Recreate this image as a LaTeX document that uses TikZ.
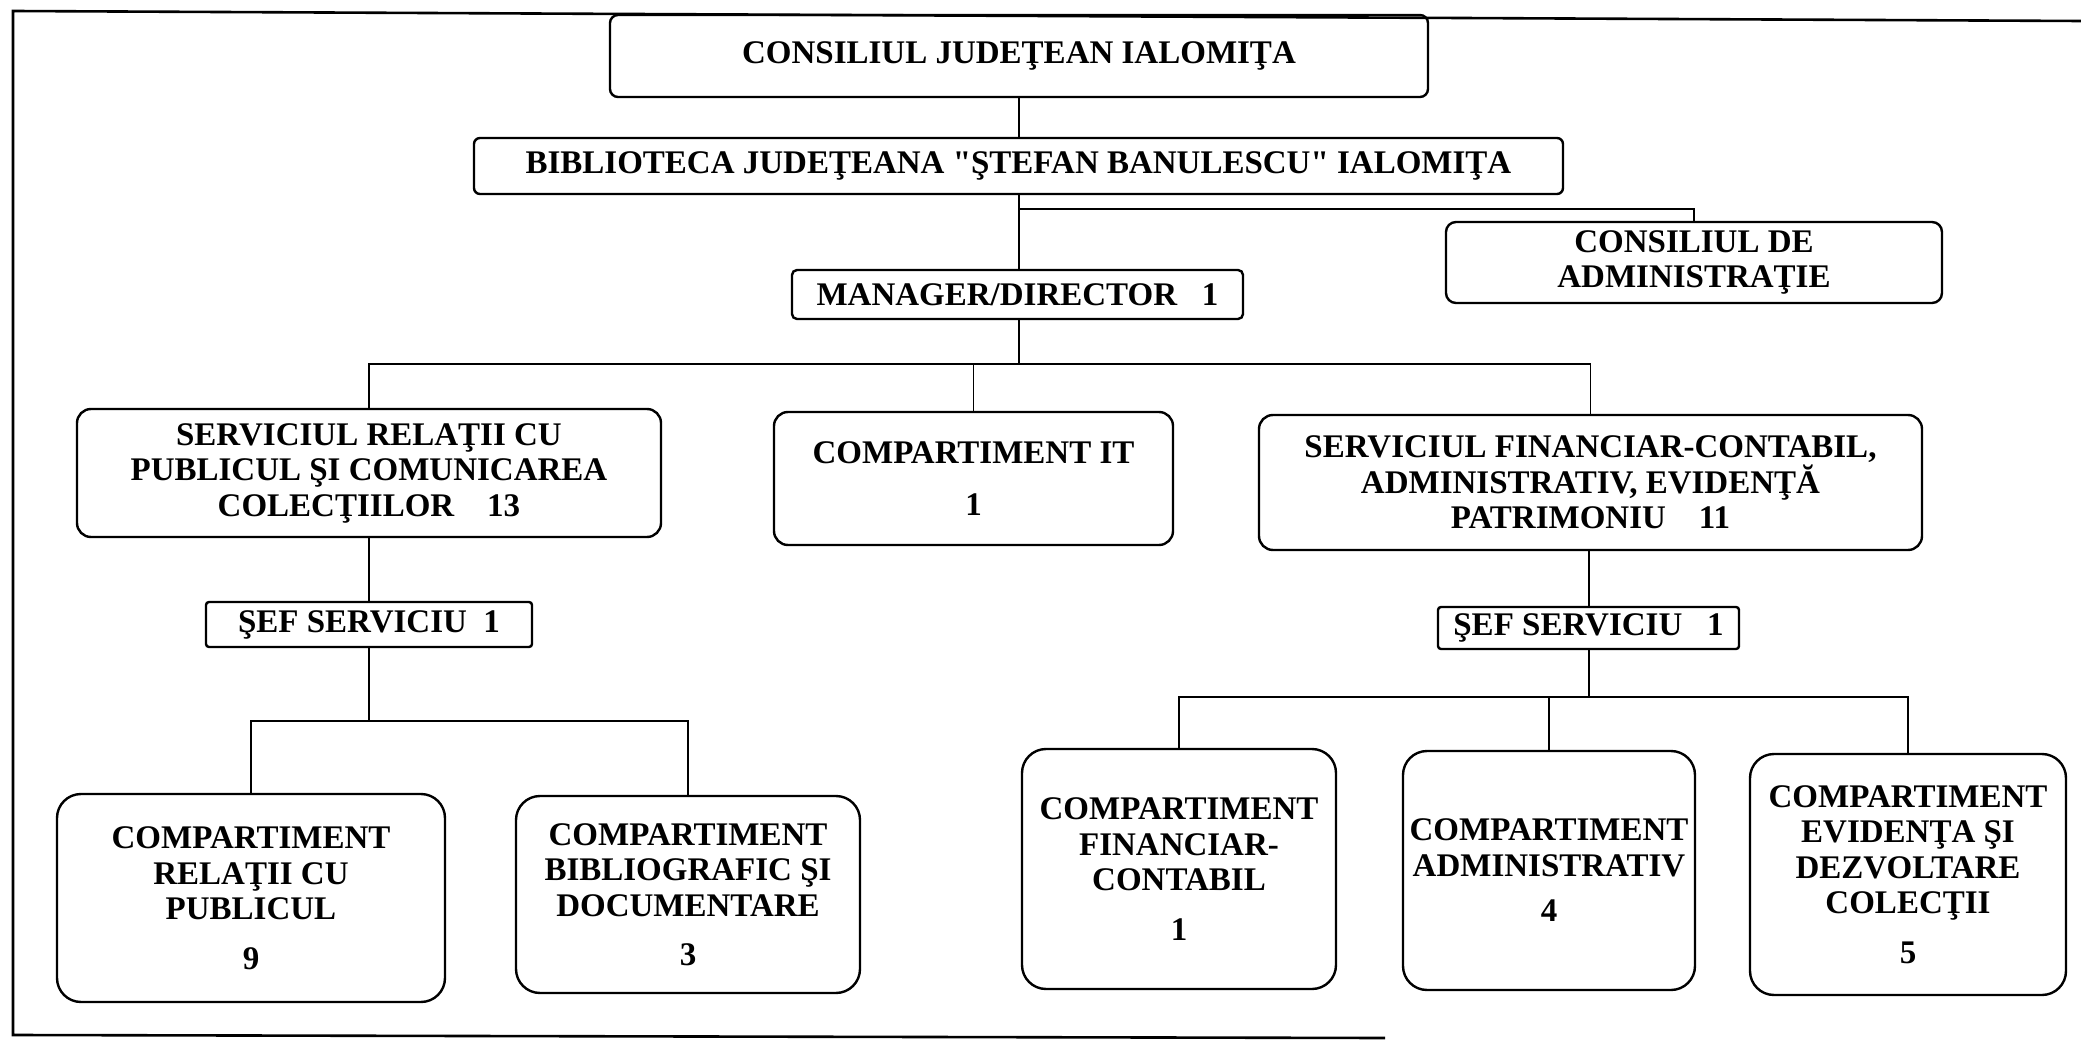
\documentclass[tikz,border=0pt]{standalone}
\usepackage{fontspec}
\setmainfont{Liberation Serif}[Ligatures=TeXOff]
\begin{document}
\begin{tikzpicture}[x=1pt,y=-1pt,
  box/.style={draw,line width=2.4pt,align=center,inner sep=0pt,
    font=\fontsize{33}{35.5}\selectfont\bfseries},
  conn/.style={line width=1.8pt},
  frame/.style={line width=2.6pt}]
\useasboundingbox (0,0) rectangle (2081,1040);
% outer frame
\draw[frame] (2081,21) -- (13,11) -- (13,1035) -- (1385,1038);
% boxes
\node[box,rounded corners=8pt,minimum width=818pt,minimum height=82pt] (cj) at (1019,56) {CONSILIUL JUDEŢEAN IALOMIŢA};
\node[box,rounded corners=6pt,minimum width=1089pt,minimum height=56pt] (bib) at (1018.5,166) {BIBLIOTECA JUDEŢEANA "ŞTEFAN BANULESCU" IALOMIŢA};
\node[box,rounded corners=10pt,minimum width=496pt,minimum height=81pt] (cda) at (1694,262.5) {CONSILIUL DE\\ADMINISTRAŢIE};
\node[box,rounded corners=5pt,minimum width=451pt,minimum height=49pt] (mgr) at (1017.5,294.5) {MANAGER/DIRECTOR~~~1};
\node[box,rounded corners=14pt,minimum width=584pt,minimum height=128pt] (srp) at (369,473) {SERVICIUL RELAŢII CU\\PUBLICUL ŞI COMUNICAREA\\COLECŢIILOR~~~~13};
\node[box,rounded corners=14pt,minimum width=399pt,minimum height=133pt] (cit) at (973.5,478.5) {COMPARTIMENT IT\\[16pt]1};
\node[box,rounded corners=14pt,minimum width=663pt,minimum height=135pt] (sfc) at (1590.5,482.5) {SERVICIUL FINANCIAR-CONTABIL,\\ADMINISTRATIV, EVIDENŢĂ\\PATRIMONIU~~~~11};
\node[box,rounded corners=3pt,minimum width=326pt,minimum height=45pt] (sef1) at (369,624.5) {ŞEF SERVICIU~~1};
\node[box,rounded corners=3pt,minimum width=301pt,minimum height=42pt] (sef2) at (1588.5,628) {ŞEF SERVICIU~~~1};
\node[box,rounded corners=24pt,minimum width=388pt,minimum height=208pt] (crp) at (251,898) {COMPARTIMENT\\RELAŢII CU\\PUBLICUL\\[14pt]9};
\node[box,rounded corners=24pt,minimum width=344pt,minimum height=197pt] (cbd) at (688,894.5) {COMPARTIMENT\\BIBLIOGRAFIC ŞI\\DOCUMENTARE\\[14pt]3};
\node[box,rounded corners=24pt,minimum width=314pt,minimum height=240pt] (cfc) at (1179,869) {COMPARTIMENT\\FINANCIAR-\\CONTABIL\\[14pt]1};
\node[box,rounded corners=24pt,minimum width=292pt,minimum height=239pt] (cad) at (1549,870.5) {COMPARTIMENT\\ADMINISTRATIV\\[10pt]4};
\node[box,rounded corners=24pt,minimum width=316pt,minimum height=241pt] (cev) at (1908,874.5) {COMPARTIMENT\\EVIDENŢA ŞI\\DEZVOLTARE\\COLECŢII\\[14pt]5};
% junction coordinates
\coordinate (t1) at (1019,209);
\coordinate (b1) at (1019,364);
\coordinate (b2) at (369,721);
\coordinate (b3) at (1589,697);
% connectors
\draw[conn] (cj.south -| t1) -- (bib.north -| t1);
\draw[conn] (bib.south -| t1) -- (mgr.north -| t1);
\draw[conn] (t1) -| (cda.north);
\draw[conn] (mgr.south -| b1) -- (b1);
\draw[conn] (srp.north) |- (b1) -| (sfc.north);
\draw[conn] (cit.north |- b1) -- (cit.north);
\draw[conn] (srp.south -| b2) -- (sef1.north -| b2);
\draw[conn] (sef1.south -| b2) -- (b2);
\draw[conn] (crp.north) |- (b2) -| (cbd.north);
\draw[conn] (sfc.south -| b3) -- (sef2.north -| b3);
\draw[conn] (sef2.south -| b3) -- (b3);
\draw[conn] (cfc.north) |- (b3) -| (cev.north);
\draw[conn] (cad.north |- b3) -- (cad.north);
\end{tikzpicture}
\end{document}
